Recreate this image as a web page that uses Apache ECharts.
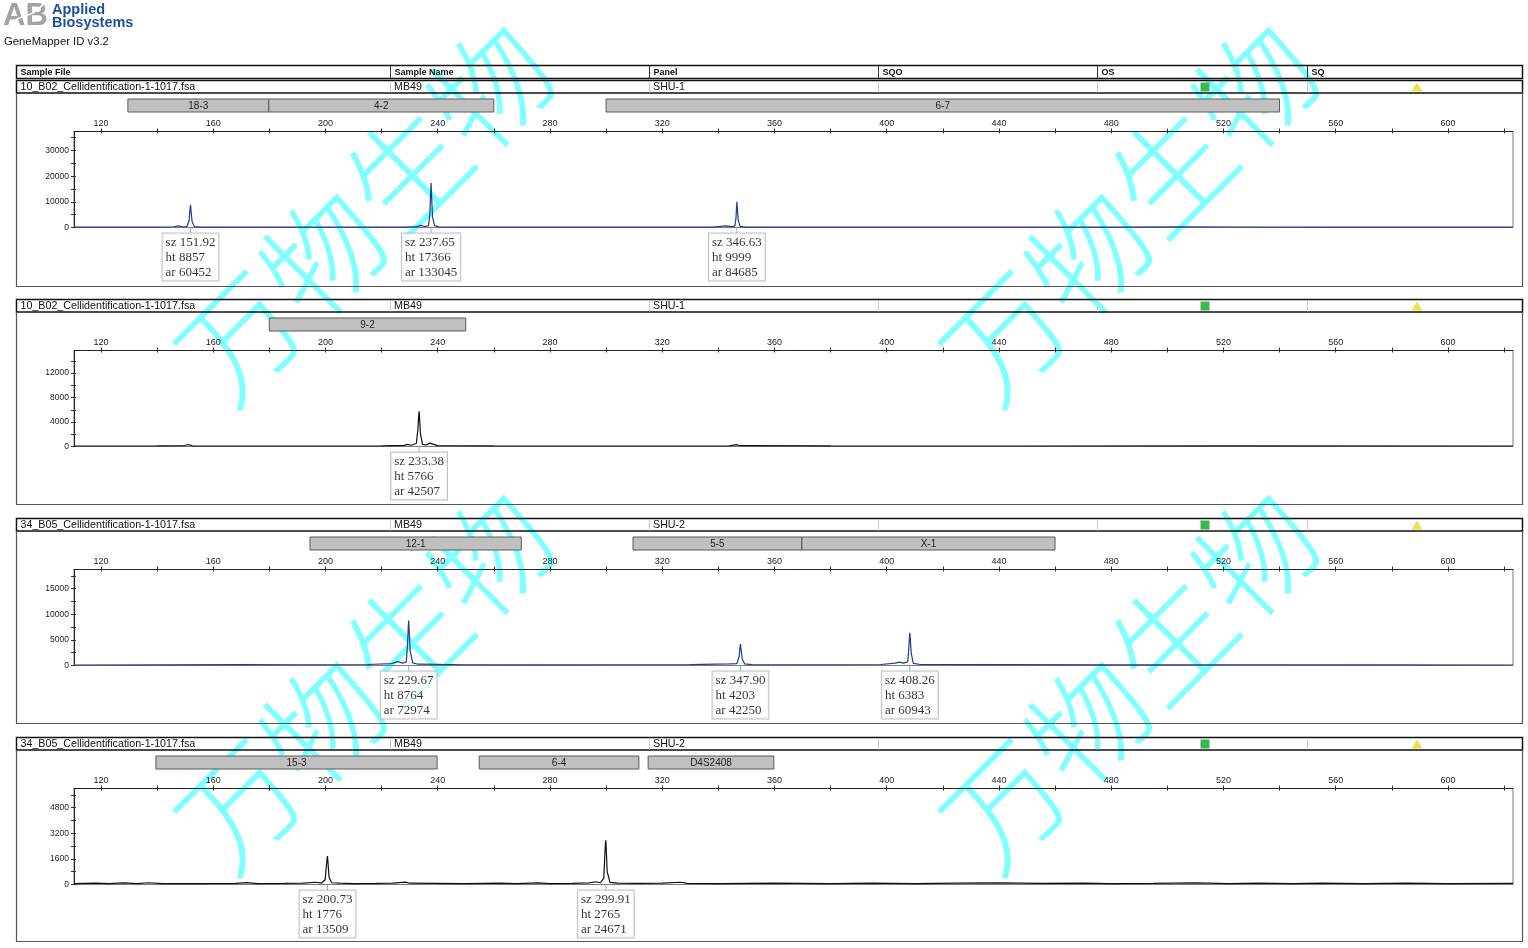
<!DOCTYPE html>
<html><head><meta charset="utf-8">
<script src="https://cdn.jsdelivr.net/npm/echarts@6.0.0/dist/echarts.min.js"></script>
<style>html,body{margin:0;padding:0;background:#fff}#c{width:1528px;height:948px}</style>
</head><body><div id="c"></div>
<script>
// ---------------- DATA ----------------
const sampleFiles = ['10_B02_Cellidentification-1-1017.fsa','10_B02_Cellidentification-1-1017.fsa','34_B05_Cellidentification-1-1017.fsa','34_B05_Cellidentification-1-1017.fsa'];
const sampleNames = ['MB49','MB49','MB49','MB49'];
const panelNames = ['SHU-1','SHU-1','SHU-2','SHU-2'];
const headerTitles = ['Sample File','Sample Name','Panel','SQO','OS','SQ'];

const xMin = 110.4, xMax = 623.2;
const xLabelValues = [120,160,200,240,280,320,360,400,440,480,520,560,600];
const xTickValues = [120,140,160,180,200,220,240,260,280,300,320,340,360,380,400,420,440,460,480,500,520,540,560,580,600,620];

const yMaxes = [37400, 15700, 18750, 6000];
const p1YLabels = [0,10000,20000,30000];
const p1YTicks = [0,5000,10000,15000,20000,25000,30000,35000];
const p2YLabels = [0,4000,8000,12000];
const p2YTicks = [0,2000,4000,6000,8000,10000,12000,14000];
const p3YLabels = [0,5000,10000,15000];
const p3YTicks = [0,2500,5000,7500,10000,12500,15000,17500];
const p4YLabels = [0,1600,3200,4800];
const p4YTicks = [0,800,1600,2400,3200,4000,4800,5600];

// bins (allele marker bars)
const p1BinNames = ['18-3','4-2','6-7'];
const p1BinStart = [129.6,179.8,300];
const p1BinEnd = [179.8,260,540];
const p2BinNames = ['9-2'];
const p2BinStart = [180];
const p2BinEnd = [250];
const p3BinNames = ['12-1','5-5','X-1'];
const p3BinStart = [194.5,309.6,369.8];
const p3BinEnd = [269.8,369.8,460];
const p4BinNames = ['15-3','6-4','D4S2408'];
const p4BinStart = [139.6,254.8,315];
const p4BinEnd = [239.8,311.7,359.8];

// labelled peaks
const p1Sz = [151.92,237.65,346.63];
const p1Ht = [8857,17366,9999];
const p1Ar = [60452,133045,84685];
const p2Sz = [233.38];
const p2Ht = [5766];
const p2Ar = [42507];
const p3Sz = [229.67,347.90,408.26];
const p3Ht = [8764,4203,6383];
const p3Ar = [72974,42250,60943];
const p4Sz = [200.73,299.91];
const p4Ht = [1776,2765];
const p4Ar = [13509,24671];

// electropherogram traces [size (bp), height (RFU)]
const p1Trace = [[110.4,120],[125,110],[140,150],[146,300],[147.6,650],[149,300],[150.6,320],[151.4,2600],[151.7,6500],[151.92,8857],[152.15,6000],[152.5,2200],[153.3,350],[156,180],[170,120],[190,140],[210,120],[228,160],[232.5,350],[234,850],[235.3,380],[236.7,600],[237.2,4800],[237.45,12500],[237.65,17366],[237.85,11800],[238.15,4200],[238.9,700],[240.5,250],[250,150],[280,110],[320,130],[338,170],[342.8,600],[344.6,350],[345.9,500],[346.3,3600],[346.5,8000],[346.63,9999],[346.78,7200],[347.1,2800],[347.8,450],[350,180],[380,120],[440,140],[480,170],[505,230],[530,200],[560,130],[600,110],[623.2,120]];
const p2Trace = [[110.4,80],[140,90],[149.6,120],[151.1,320],[152.6,110],[180,80],[220,100],[228,180],[229.3,340],[230.5,200],[232.4,500],[232.95,2800],[233.2,4900],[233.38,5766],[233.55,4600],[233.85,2100],[234.6,350],[236,250],[237.1,550],[237.6,680],[238.3,380],[240,150],[260,90],[300,80],[344,110],[346.4,300],[347.7,130],[380,90],[450,80],[520,90],[623.2,80]];
const p3Trace = [[110.4,100],[140,120],[170,180],[190,150],[215,200],[223.5,380],[225.8,750],[227.5,450],[228.8,700],[229.25,4000],[229.5,7200],[229.67,8764],[229.85,6800],[230.2,2800],[231.1,500],[233,250],[250,150],[280,130],[300,150],[330,180],[344,300],[346.6,350],[347.45,1800],[347.72,3600],[347.9,4203],[348.1,3300],[348.5,1300],[349.4,300],[352,180],[380,150],[398,200],[403,450],[404.6,650],[406,450],[407.5,700],[407.9,3300],[408.12,5500],[408.26,6383],[408.42,5200],[408.75,2400],[409.5,400],[412,200],[440,160],[480,140],[530,150],[580,120],[623.2,100]];
const p4Trace = [[110.4,60],[118,90],[123,50],[128,100],[133,60],[137,110],[142,60],[155,50],[168,70],[172,120],[176,60],[185,70],[192,90],[196.6,140],[198.6,90],[199.9,300],[200.35,1200],[200.58,1600],[200.73,1776],[200.9,1400],[201.3,450],[202.2,110],[205,80],[210,60],[218,70],[224,90],[228.5,150],[230,80],[240,70],[250,60],[262,80],[268,60],[276,100],[280,60],[288,70],[294,100],[296.4,170],[298,110],[299.2,400],[299.6,2000],[299.78,2600],[299.91,2765],[300.05,2300],[300.4,800],[301.4,130],[304,80],[312,70],[320,80],[326.6,140],[329,70],[340,60],[360,80],[380,60],[395,90],[410,60],[425,80],[440,100],[455,70],[470,80],[480,60],[495,70],[510,100],[522,60],[532,90],[545,60],[555,80],[570,60],[585,90],[600,60],[623.2,70]];

// ---------------- LAYOUT / STYLE ----------------
const ROW_TOP = [80, 299, 518, 737];
const FRAME_BOTTOM = [286, 504, 723, 941];
const COL_X = [16, 390, 649, 878, 1097, 1307];
const RIGHT = 1523;
const PLOT_LEFT = 74, PLOT_W = 1439, PLOT_H = 96;
const TRACE_COLORS = ['#1f3d8c', '#111111', '#1f3d8c', '#111111'];
const SANS = '"Liberation Sans", Arial, sans-serif';
const SERIF = '"Liberation Serif", "Times New Roman", serif';

const traces = [p1Trace, p2Trace, p3Trace, p4Trace];
const yLabels = [p1YLabels, p2YLabels, p3YLabels, p4YLabels];
const yTicks = [p1YTicks, p2YTicks, p3YTicks, p4YTicks];
const binNames = [p1BinNames, p2BinNames, p3BinNames, p4BinNames];
const binStart = [p1BinStart, p2BinStart, p3BinStart, p4BinStart];
const binEnd = [p1BinEnd, p2BinEnd, p3BinEnd, p4BinEnd];
const peakSz = [p1Sz, p2Sz, p3Sz, p4Sz];
const peakHt = [p1Ht, p2Ht, p3Ht, p4Ht];
const peakAr = [p1Ar, p2Ar, p3Ar, p4Ar];

function txt(x, y, t, font, fill, align) {
  return {type:'text', x:x, y:y, silent:true, z:50,
    style:{text:t, font:font, fill:fill || '#111', align:align||'left', verticalAlign:'middle', textAlign:align||'left', textVerticalAlign:'middle'}};
}
function rect(x, y, w, h, stroke, lw, fill) {
  return {type:'rect', silent:true, z:50, shape:{x:x, y:y, width:w, height:h}, style:{stroke:stroke, lineWidth:lw, fill:fill || 'none'}};
}
function line(x1, y1, x2, y2, stroke, lw) {
  return {type:'line', silent:true, z:50, shape:{x1:x1, y1:y1, x2:x2, y2:y2}, style:{stroke:stroke, lineWidth:lw}};
}

const g = [];
// watermark
[[365,212],[1130,212],[365,680],[1130,680]].forEach(function (c) {
  g.push({type:'text', x:c[0], y:c[1], rotation:Math.PI/4, silent:true, z:-5,
    style:{text:'万物生物', font:'300 118px "Noto Sans CJK SC"', fill:'#80ffff', align:'center', verticalAlign:'middle', textAlign:'center', textVerticalAlign:'middle'}});
});
// logo
g.push(txt(3, 16, 'AB', 'bold 31px ' + SANS, '#a3a3a3'));
g.push({type:'bezierCurve', silent:true, z:51, shape:{x1:8, y1:28, x2:44, y2:3, cpx1:20, cpy1:10, cpx2:30, cpy2:22}, style:{stroke:'#fff', lineWidth:1.6, fill:'none'}});
g.push(txt(52, 10, 'Applied', 'bold 14.5px ' + SANS, '#1d4f9f'));
g.push(txt(52, 23, 'Biosystems', 'bold 14.5px ' + SANS, '#1d4f9f'));
g.push(txt(4, 41.5, 'GeneMapper ID v3.2', '11.3px ' + SANS, '#111'));

// header tables and panel frames
ROW_TOP.forEach(function (r, i) {
  if (i === 0) {
    g.push(rect(16.5, 65.5, RIGHT - 17, 13, '#111', 1.5));
    COL_X.slice(1).forEach(function (x) { g.push(line(x + 0.5, 66, x + 0.5, 78, '#333', 1)); });
    headerTitles.forEach(function (t, k) { g.push(txt(COL_X[k] + 4.5, 72.3, t, 'bold 9px ' + SANS, '#111')); });
  }
  g.push(rect(16.5, r + 0.5, RIGHT - 17, 12.5, '#111', 1.5));
  COL_X.slice(1).forEach(function (x) { g.push(line(x + 0.5, r + 1.5, x + 0.5, r + 12.5, '#cfcfcf', 1)); });
  g.push(txt(COL_X[0] + 4.5, r + 7, sampleFiles[i], '10.7px ' + SANS, '#111'));
  g.push(txt(COL_X[1] + 4, r + 7, sampleNames[i], '10.7px ' + SANS, '#111'));
  g.push(txt(COL_X[2] + 4, r + 7, panelNames[i], '10.7px ' + SANS, '#111'));
  g.push(rect(1200.5, r + 2.5, 9, 9, 'none', 0, '#3cb651'));
  g.push({type:'polygon', silent:true, z:50, shape:{points:[[1417, r + 2.5],[1411.5, r + 11.5],[1422.5, r + 11.5]]}, style:{fill:'#ece24e'}});
  g.push({type:'polyline', silent:true, z:50, shape:{points:[[16.5, r + 13],[16.5, FRAME_BOTTOM[i] + 0.5],[RIGHT - 0.5, FRAME_BOTTOM[i] + 0.5],[RIGHT - 0.5, r + 13]]}, style:{stroke:'#555', lineWidth:1.2, fill:'none'}});
});

// ---------------- OPTION ----------------
const grids = [], xAxes = [], yAxes = [], series = [];
for (let i = 0; i < 4; i++) {
  grids.push({left:PLOT_LEFT, top:ROW_TOP[i] + 51.5, width:PLOT_W, height:PLOT_H, show:true, borderColor:'#7a7a7a', borderWidth:1, containLabel:false, outerBoundsMode:'none'});
}
for (let i = 0; i < 4; i++) {
  grids.push({left:PLOT_LEFT, top:ROW_TOP[i] + 19, width:PLOT_W, height:13, show:false, containLabel:false, outerBoundsMode:'none'});
}
const plain = function (v) { return String(v); };
for (let i = 0; i < 4; i++) {
  xAxes.push({type:'value', gridIndex:i, position:'top', min:xMin, max:xMax,
    axisLine:{show:true, onZero:false, lineStyle:{color:'#222', width:1}},
    axisTick:{show:true, inside:false, length:3, customValues:xTickValues, lineStyle:{color:'#333'}},
    axisLabel:{show:true, customValues:xLabelValues, formatter:plain, fontSize:9, color:'#222', margin:3, fontFamily:SANS},
    splitLine:{show:false}});
}
for (let i = 0; i < 4; i++) {
  xAxes.push({type:'value', gridIndex:i, position:'top', min:xMin, max:xMax,
    axisLine:{show:false, onZero:false},
    axisTick:{show:true, inside:true, length:2, customValues:xTickValues, lineStyle:{color:'#333'}},
    axisLabel:{show:false}, splitLine:{show:false}});
}
for (let i = 0; i < 4; i++) {
  xAxes.push({type:'value', gridIndex:4 + i, min:xMin, max:xMax, show:false});
}
for (let i = 0; i < 4; i++) {
  yAxes.push({type:'value', gridIndex:i, position:'left', min:0, max:yMaxes[i],
    axisLine:{show:true, onZero:false, lineStyle:{color:'#222', width:1}},
    axisTick:{show:true, inside:false, length:3, customValues:yTicks[i], lineStyle:{color:'#333'}},
    axisLabel:{show:true, customValues:yLabels[i], formatter:plain, fontSize:8.5, color:'#222', margin:5, fontFamily:SANS},
    splitLine:{show:false}});
}
for (let i = 0; i < 4; i++) {
  yAxes.push({type:'value', gridIndex:i, position:'left', min:0, max:yMaxes[i],
    axisLine:{show:false, onZero:false},
    axisTick:{show:true, inside:true, length:2, customValues:yTicks[i], lineStyle:{color:'#333'}},
    axisLabel:{show:false}, splitLine:{show:false}});
}
for (let i = 0; i < 4; i++) {
  yAxes.push({type:'value', gridIndex:4 + i, min:0, max:1, show:false});
}

for (let i = 0; i < 4; i++) {
  series.push({type:'line', xAxisIndex:i, yAxisIndex:i, data:traces[i], showSymbol:false, symbol:'none',
    silent:true, z:3, lineStyle:{color:TRACE_COLORS[i], width:1.2}, clip:true});
  (function (k) {
    series.push({type:'scatter', xAxisIndex:k, yAxisIndex:k, silent:true, clip:false, z:6,
      data:peakSz[k].map(function (s) { return [s, 0]; }),
      symbol:'rect', symbolSize:[1, 6], symbolOffset:[0, 3],
      itemStyle:{color:'#8d96aa'},
      label:{show:true, position:'bottom', distance:0,
        backgroundColor:'#ffffff', borderColor:'#a9b1c3', borderWidth:1, padding:[2, 3, 1, 3],
        formatter:function (p) {
          const d = p.dataIndex;
          return '{t|sz ' + peakSz[k][d].toFixed(2) + '}\n{t|ht ' + peakHt[k][d] + '}\n{t|ar ' + peakAr[k][d] + '}';
        },
        rich:{t:{fontFamily:SERIF, fontSize:13, lineHeight:14.7, color:'#000', align:'left'}}}
    });
    series.push({type:'custom', xAxisIndex:8 + k, yAxisIndex:8 + k, silent:true, clip:false, z:4,
      data:binStart[k].map(function (s, j) { return [s, binEnd[k][j]]; }),
      renderItem:function (params, api) {
        const a = api.coord([api.value(0), 1]);
        const b = api.coord([api.value(1), 0]);
        return {type:'group', children:[
          {type:'rect', shape:{x:a[0], y:a[1], width:b[0] - a[0], height:b[1] - a[1]}, style:{fill:'#c0c0c0', stroke:'#5a5a5a', lineWidth:1}},
          {type:'text', style:{text:binNames[k][params.dataIndex], x:(a[0] + b[0]) / 2, y:(a[1] + b[1]) / 2 + 0.5,
            align:'center', verticalAlign:'middle', textAlign:'center', textVerticalAlign:'middle', font:'10px ' + SANS, fill:'#222'}}
        ]};
      }
    });
  })(i);
}

const chart = echarts.init(document.getElementById('c'), null, {renderer:'canvas'});
chart.setOption({
  animation:false,
  backgroundColor:'#ffffff',
  graphic:{elements:g},
  grid:grids, xAxis:xAxes, yAxis:yAxes, series:series
});
</script></body></html>
